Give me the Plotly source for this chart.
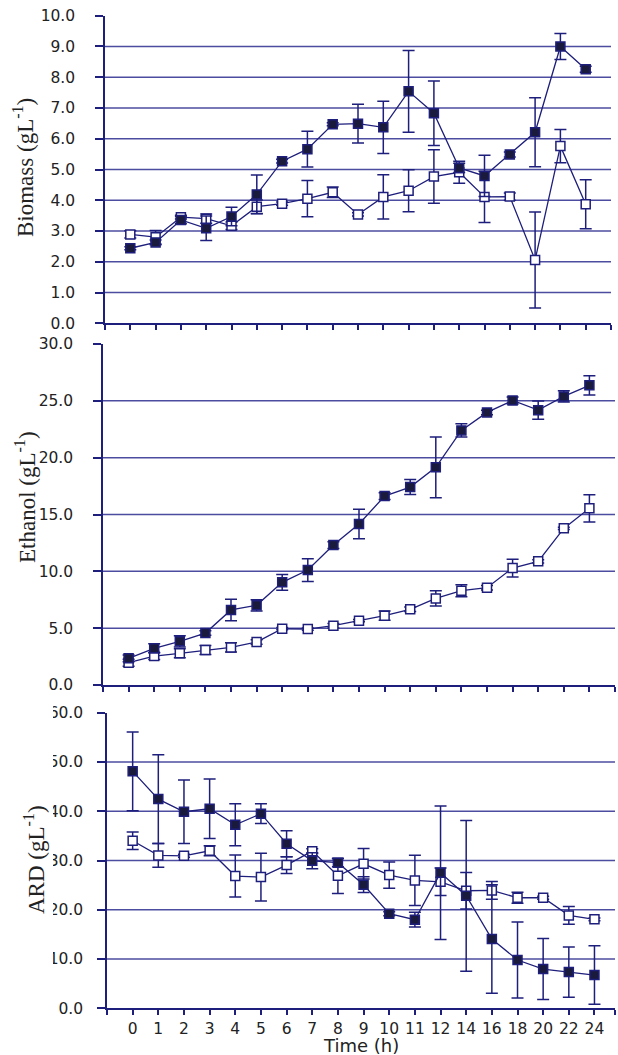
import plotly.graph_objects as go

times = ["0", "1", "2", "3", "4", "5", "6", "7", "8", "9", "10", "11", "12",
         "14", "16", "18", "20", "22", "24"]

biomass_filled = [2.44, 2.63, 3.36, 3.09, 3.47, 4.19, 5.27, 5.66, 6.47, 6.49, 6.37, 7.54, 6.83,
                  5.05, 4.79, 5.49, 6.21, 9.00, 8.26]
biomass_filled_err = [0.05, 0.08, 0.12, 0.40, 0.30, 0.63, 0.06, 0.58, 0.05, 0.63, 0.85, 1.33, 1.05,
                      0.15, 0.67, 0.08, 1.12, 0.42, 0.10]
biomass_open = [2.89, 2.80, 3.45, 3.40, 3.17, 3.79, 3.89, 4.05, 4.26, 3.54, 4.11, 4.31, 4.77,
                4.91, 4.11, 4.12, 2.06, 5.76, 3.87]
biomass_open_err = [0.12, 0.22, 0.06, 0.15, 0.12, 0.22, 0.05, 0.59, 0.17, 0.05, 0.72, 0.68, 0.87,
                    0.36, 0.83, 0.12, 1.56, 0.54, 0.80]

ethanol_filled = [2.35, 3.23, 3.84, 4.57, 6.60, 7.01, 9.03, 10.11, 12.31, 14.16, 16.62, 17.41, 19.15,
                  22.40, 23.98, 25.03, 24.18, 25.39, 26.36]
ethanol_filled_err = [0.3, 0.4, 0.5, 0.2, 0.94, 0.5, 0.69, 1.0, 0.3, 1.3, 0.3, 0.66, 2.67,
                      0.59, 0.2, 0.3, 0.8, 0.5, 0.85]
ethanol_open = [1.96, 2.55, 2.79, 3.08, 3.31, 3.78, 4.95, 4.92, 5.22, 5.66, 6.10, 6.66, 7.62,
                8.30, 8.56, 10.29, 10.88, 13.78, 15.54]
ethanol_open_err = [0.3, 0.3, 0.4, 0.4, 0.4, 0.2, 0.1, 0.1, 0.2, 0.1, 0.4, 0.2, 0.67,
                    0.53, 0.2, 0.78, 0.15, 0.1, 1.2]

ard_filled = [48.1, 42.46, 39.9, 40.5, 37.25, 39.5, 33.4, 29.95, 29.55, 25.08, 19.2, 17.98, 27.5,
              22.84, 14.06, 9.8, 7.97, 7.36, 6.75]
ard_filled_err = [8.0, 9.0, 6.46, 6.05, 4.26, 2.0, 2.64, 1.6, 0.8, 1.6, 0.4, 1.5, 13.56,
                  15.3, 11.0, 7.7, 6.2, 5.1, 5.95]
ard_open = [34.0, 31.03, 30.95, 31.97, 26.84, 26.63, 29.07, 31.9, 26.9, 29.33, 27.04, 25.96, 25.68,
            23.86, 23.93, 22.44, 22.44, 18.86, 18.05]
ard_open_err = [1.76, 2.4, 0.3, 1.0, 4.26, 4.83, 1.7, 0.5, 3.58, 3.1, 2.67, 5.1, 2.8,
                3.7, 1.8, 1.1, 0.3, 1.8, 0.3]

y_titles = ["Biomass (gL<sup>-1</sup>)", "Ethanol (gL<sup>-1</sup>)", "ARD (gL<sup>-1</sup>)"]
x_title = "Time (h)"

W, H = 618, 1055
NAVY = "#1e1e7c"
GRID = "#4c4ca0"
FILL = "#1a1a3c"
TXT = "#222222"
TICKFONT = dict(family="DejaVu Sans", size=15.5, color=TXT)

xpos = list(range(len(times)))

def px_x(p):
    return p / W

def px_y(p):
    return 1 - p / H

panels = [
    # (filled, filled_err, open, open_err, xdomain px, ydomain px (top,bottom), ymax, dtick, xmax)
    (biomass_filled, biomass_filled_err, biomass_open, biomass_open_err, (105, 611), (15.7, 323.3), 10, 1, 19),
    (ethanol_filled, ethanol_filled_err, ethanol_open, ethanol_open_err, (103, 615), (344, 685), 30, 5, 19),
    (ard_filled, ard_filled_err, ard_open, ard_open_err, (107, 615), (712.7, 1008.3), 60, 10, 18.8),
]

fig = go.Figure()
layout = dict(width=W, height=H, margin=dict(l=0, r=0, t=0, b=0), autosize=False,
              template="none", paper_bgcolor="white", plot_bgcolor="white", showlegend=False)
shapes = []

for i, (fv, fe, ov, oe, xd, yd, ymax, dt, xmax) in enumerate(panels):
    n = "" if i == 0 else str(i + 1)
    xa, ya = "x" + n, "y" + n
    for vals, errs, filled in ((ov, oe, False), (fv, fe, True)):
        fig.add_trace(go.Scatter(
            x=xpos, y=vals, xaxis=xa, yaxis=ya, mode="lines+markers",
            line=dict(color=NAVY, width=1.3),
            marker=dict(symbol="square", size=9,
                        color=FILL if filled else "white",
                        line=dict(color=NAVY, width=1.5)),
            error_y=dict(type="data", array=errs, visible=True, color=NAVY,
                         thickness=1.5, width=6),
            hoverinfo="skip", cliponaxis=False,
        ))
    gridvals = [v * dt for v in range(0, int(round(ymax / dt)) + 1)]
    # horizontal grid lines (none at the top value, as in the original)
    for v in gridvals[1:-1]:
        shapes.append(dict(type="line", xref=xa + " domain", x0=0, x1=1, yref=ya, y0=v, y1=v,
                           line=dict(color=GRID, width=1.5), layer="below"))
    layout["xaxis" + n] = dict(
        domain=[px_x(xd[0]), px_x(xd[1])], anchor=ya, range=[-1, xmax],
        tickmode="array", tickvals=xpos, ticktext=times,
        showticklabels=(i == 2), tickfont=TICKFONT, ticklabelstandoff=0,
        ticks="outside", ticklen=5, tickwidth=1.5, tickcolor=NAVY,
        minor=dict(tickvals=[-1, xmax], ticks="outside", ticklen=5, tickwidth=1.5,
                   tickcolor=NAVY, showgrid=False),
        showline=True, linecolor=NAVY, linewidth=1.5, showgrid=False,
        zeroline=False, automargin=False, fixedrange=True,
    )
    layout["yaxis" + n] = dict(
        domain=[px_y(yd[1]), px_y(yd[0])], anchor=xa, range=[0, ymax],
        tickmode="array", tickvals=gridvals, ticktext=[f"{v:.1f}" for v in gridvals],
        tickfont=TICKFONT, ticklabelstandoff=17 if i < 2 else 11,
        ticks="outside", ticklen=8, tickwidth=1.5, tickcolor=NAVY,
        showline=True, linecolor=NAVY, linewidth=1.5, showgrid=False,
        zeroline=False, automargin=False, fixedrange=True,
    )

# white patch reproducing the clipped left edge of the lower panel's labels
shapes.append(dict(type="rect", xref="paper", yref="paper",
                   x0=0, x1=px_x(53), y0=px_y(1000), y1=px_y(700),
                   fillcolor="white", line=dict(width=0), layer="above"))
layout["shapes"] = shapes

ann = []
title_pos = [(24, 168), (25, 497), (34, 860)]
for t, (cx, cy) in zip(y_titles, title_pos):
    ann.append(dict(text=t, xref="paper", yref="paper", x=px_x(cx), y=px_y(cy),
                    xanchor="center", yanchor="middle", textangle=-90, showarrow=False,
                    font=dict(family="Liberation Serif", size=23, color=TXT)))
ann.append(dict(text=x_title, xref="paper", yref="paper", x=px_x(361), y=px_y(1045),
                xanchor="center", yanchor="middle", showarrow=False,
                font=dict(family="DejaVu Sans", size=18, color=TXT)))
layout["annotations"] = ann

fig.update_layout(**layout)
fig.write_html("out.html", config={"displayModeBar": False},
               post_script="document.body.style.margin='0px';document.body.style.overflow='hidden';")
